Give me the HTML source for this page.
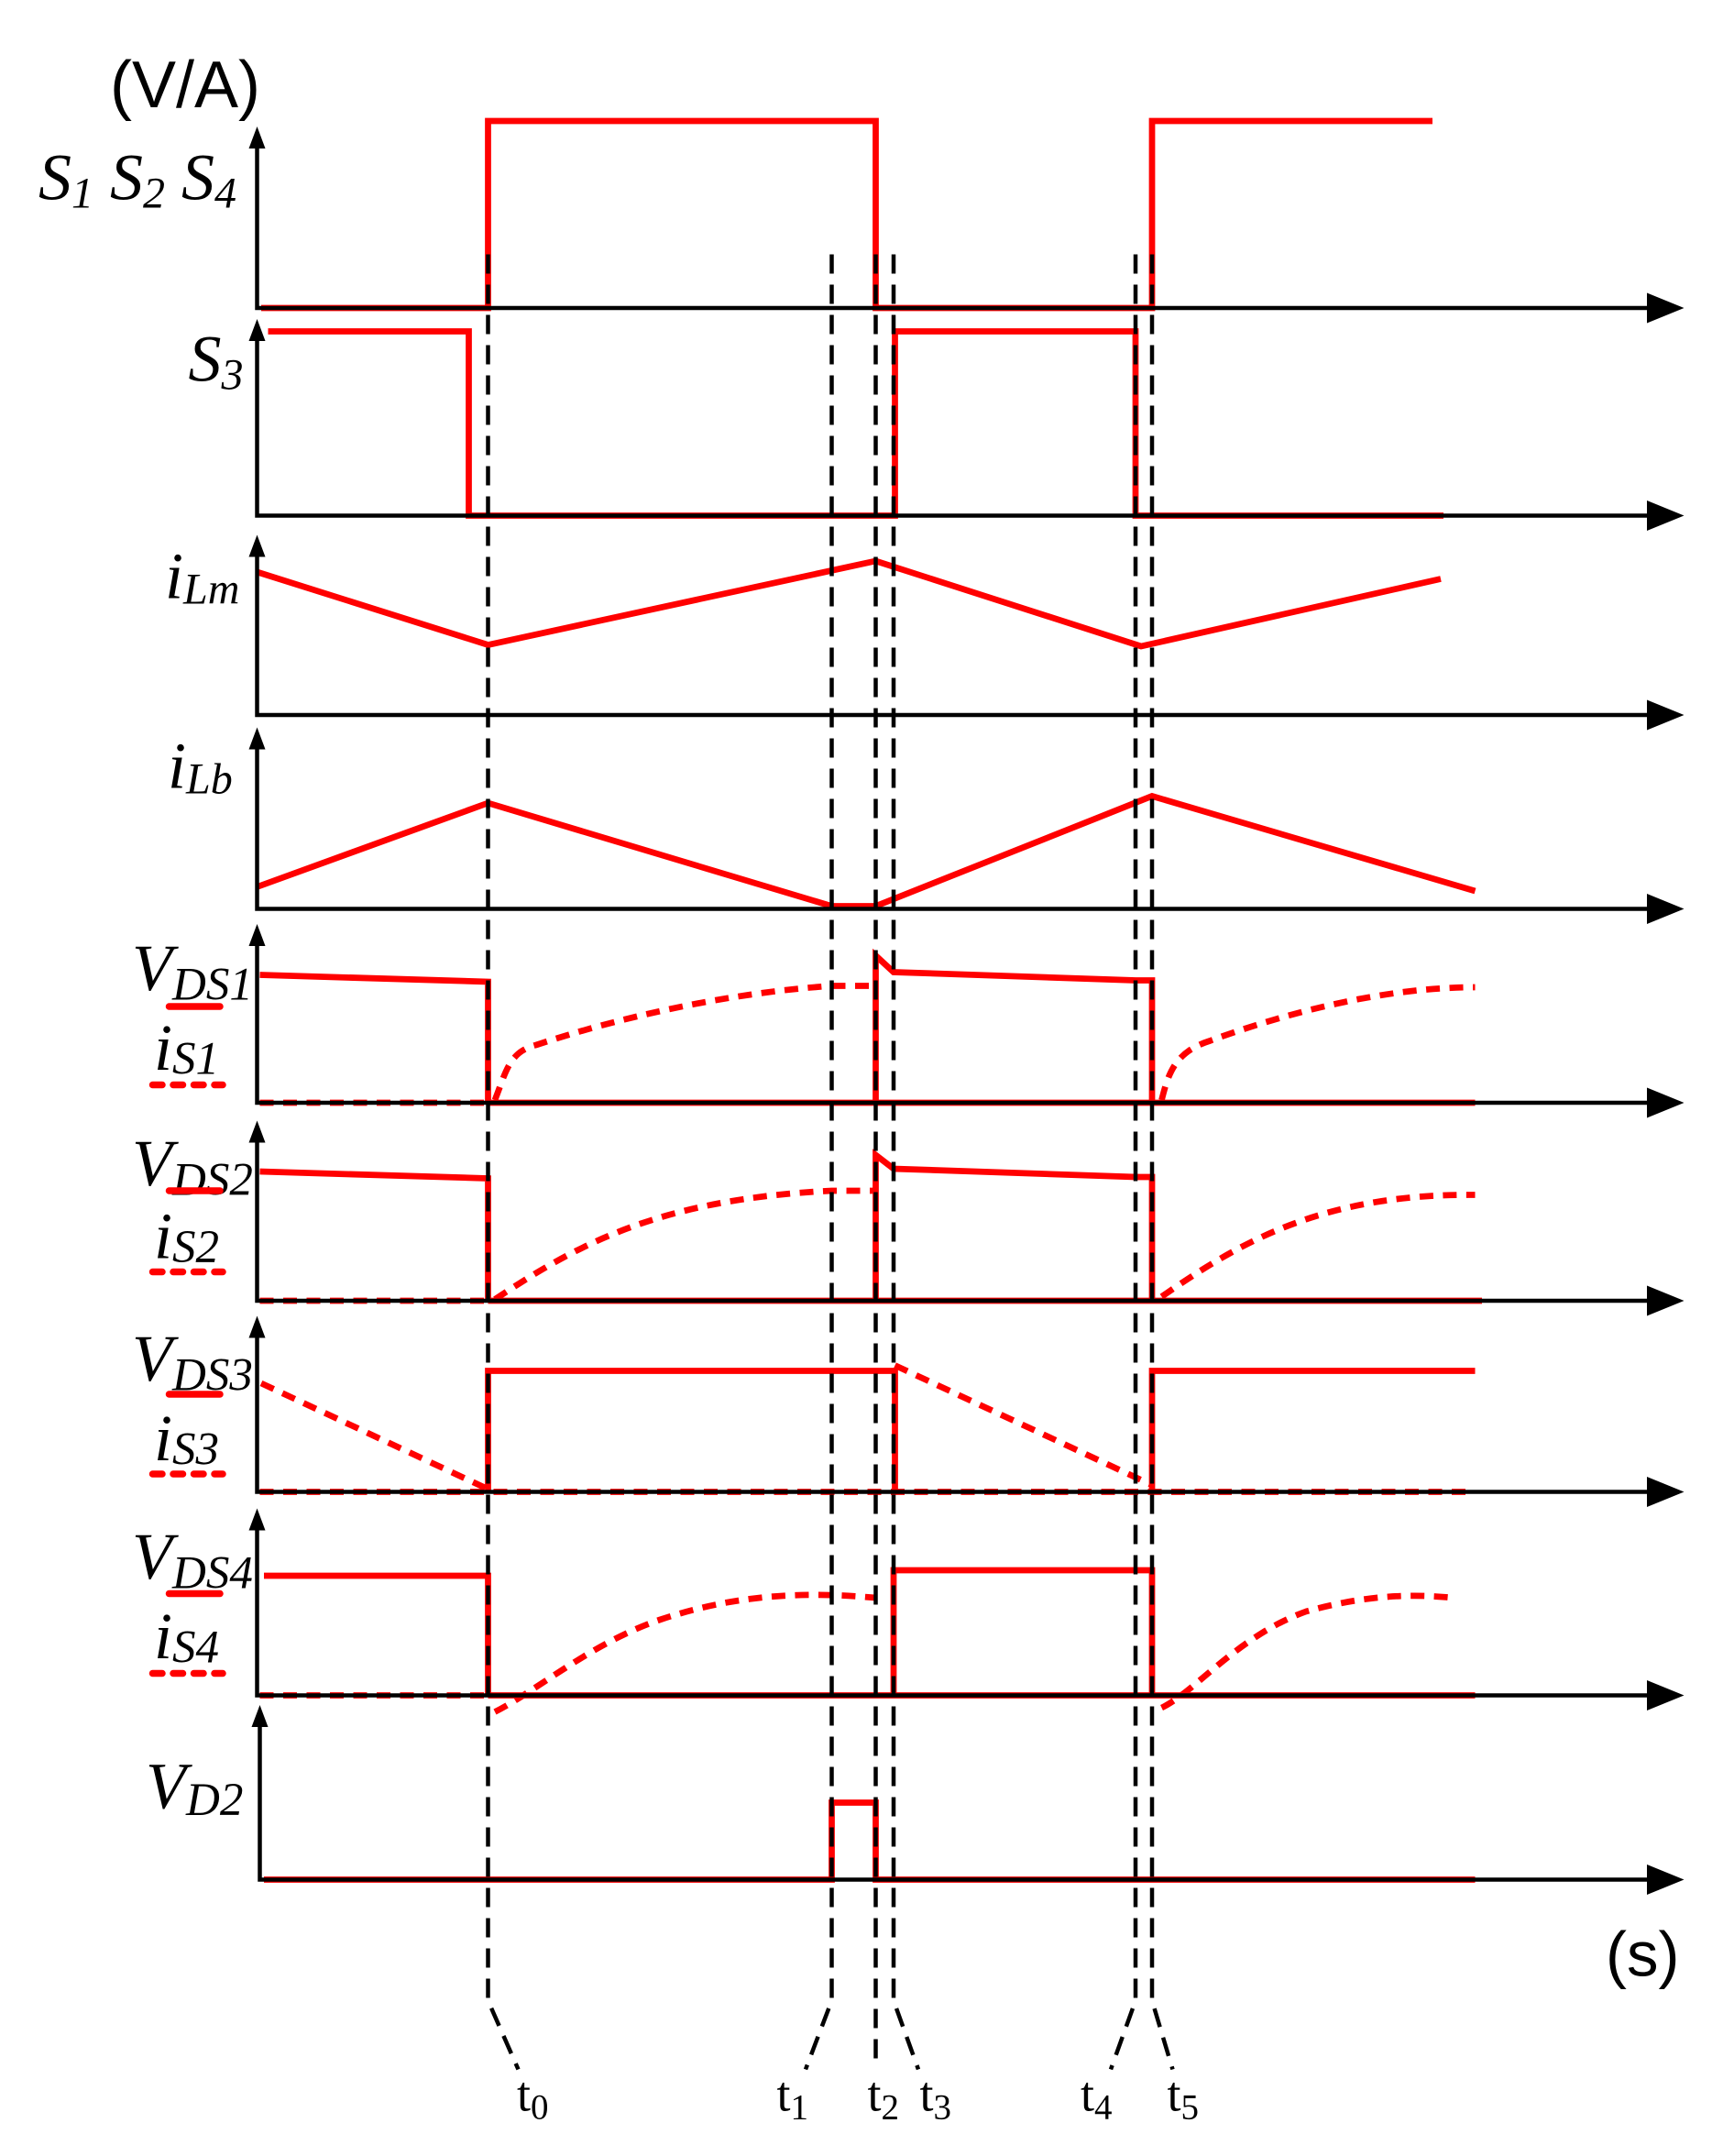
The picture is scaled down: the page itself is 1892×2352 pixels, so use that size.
<!DOCTYPE html>
<html><head><meta charset="utf-8"><style>html,body{margin:0;padding:0;background:#fff}svg{display:block}</style></head>
<body>
<svg width="1892" height="2352" viewBox="0 0 1261.33 1568" preserveAspectRatio="none" xmlns="http://www.w3.org/2000/svg">
<g font-family="Liberation Serif, serif" font-style="italic" fill="#000">
<text x="80" y="78" font-family="Liberation Sans, sans-serif" font-style="normal" font-size="48">(V/A)</text>
<text x="28" y="145" font-size="48">S<tspan font-size="32" dy="6">1</tspan><tspan dy="-6" font-size="48"> S</tspan><tspan font-size="32" dy="6">2</tspan><tspan dy="-6" font-size="48"> S</tspan><tspan font-size="32" dy="6">4</tspan></text>
<text x="137" y="277" font-size="48">S<tspan font-size="32" dy="6">3</tspan></text>
<text x="120" y="435" font-size="48">i<tspan font-size="32" dy="4">Lm</tspan></text>
<text x="122" y="573" font-size="48">i<tspan font-size="32" dy="4">Lb</tspan></text>
<text x="96" y="720" font-size="48">V<tspan font-size="34" dy="7">DS1</tspan></text>
<text x="112" y="778" font-size="48">i<tspan font-size="34" dy="3">S1</tspan></text>
<text x="96" y="862" font-size="48">V<tspan font-size="34" dy="7">DS2</tspan></text>
<text x="112" y="915" font-size="48">i<tspan font-size="34" dy="3">S2</tspan></text>
<text x="96" y="1004" font-size="48">V<tspan font-size="34" dy="7">DS3</tspan></text>
<text x="112" y="1062" font-size="48">i<tspan font-size="34" dy="3">S3</tspan></text>
<text x="96" y="1148" font-size="48">V<tspan font-size="34" dy="7">DS4</tspan></text>
<text x="112" y="1206" font-size="48">i<tspan font-size="34" dy="3">S4</tspan></text>
<text x="106" y="1315" font-size="48">V<tspan font-size="34" dy="5">D2</tspan></text>
<text x="1168" y="1437" font-family="Liberation Sans, sans-serif" font-style="normal" font-size="46">(s)</text>
<g font-style="normal" font-size="36">
<text x="376" y="1535">t<tspan font-size="26" dy="6">0</tspan></text>
<text x="565" y="1535">t<tspan font-size="26" dy="6">1</tspan></text>
<text x="631" y="1535">t<tspan font-size="26" dy="6">2</tspan></text>
<text x="669" y="1535">t<tspan font-size="26" dy="6">3</tspan></text>
<text x="786" y="1535">t<tspan font-size="26" dy="6">4</tspan></text>
<text x="849" y="1535">t<tspan font-size="26" dy="6">5</tspan></text>
</g>
</g>
<g stroke="#f00" stroke-width="5" stroke-linecap="round">
<line x1="123" y1="732" x2="160" y2="732"/>
<line x1="123" y1="866" x2="160" y2="866"/>
<line x1="123" y1="1014" x2="160" y2="1014"/>
<line x1="123" y1="1159" x2="160" y2="1159"/>
<g stroke-dasharray="7,8"><line x1="111" y1="789" x2="162" y2="789"/>
<line x1="111" y1="925" x2="162" y2="925"/>
<line x1="111" y1="1072" x2="162" y2="1072"/>
<line x1="111" y1="1217" x2="162" y2="1217"/></g>
</g>
<g fill="none" stroke="#f00" stroke-width="4.5" stroke-linejoin="miter">
<polyline points="190,224 355,224 355,88 637,88 637,224 838,224 838,88 1042,88"/>
<polyline points="195,241 341,241 341,375 651,375 651,241 826,241 826,375 1050,375"/>
<polyline points="187,416 355,469 637,408 830,470 1048,421"/>
<polyline points="187,645 355,584 605,659 637,659 838,579 1073,648"/>
<polyline points="189,709 355,714 355,802"/>
<polyline points="637,802 637,695 650,707 826,713 838,713 838,802"/>
<line x1="355" y1="802" x2="1073" y2="802"/>
<polyline points="189,852 355,857 355,946"/>
<polyline points="637,946 637,840 650,850 826,856 838,856 838,946"/>
<line x1="355" y1="946" x2="1078" y2="946"/>
<polyline points="355,1085 355,997 651,997 651,1085"/>
<polyline points="838,1085 838,997 1073,997"/>
<polyline points="192,1146 355,1146 355,1233"/>
<polyline points="650,1233 650,1142 838,1142 838,1233"/>
<line x1="355" y1="1233" x2="1073" y2="1233"/>
<polyline points="192,1367 605,1367 605,1311 637,1311 637,1367 1073,1367"/>
</g>
<g fill="none" stroke="#f00" stroke-width="4.5" stroke-dasharray="10,7">
<line x1="189" y1="802" x2="355" y2="802"/>
<path d="M360,800 C368,780 370,765 390,760 C450,740 530,722 605,717"/>
<line x1="605" y1="717" x2="637" y2="717"/>
<path d="M845,800 C850,780 855,765 880,757 C940,735 1010,718 1073,718"/>
<line x1="189" y1="946" x2="355" y2="946"/>
<path d="M360,945 C420,905 480,872 605,866 L637,866"/>
<path d="M845,943 C900,905 960,868 1073,869"/>
<polyline points="190,1006 355,1083"/>
<line x1="189" y1="1085" x2="1070" y2="1085"/>
<polyline points="651,993 838,1080"/>
<line x1="189" y1="1233" x2="355" y2="1233"/>
<path d="M360,1245 C390,1230 430,1195 480,1178 C540,1158 590,1158 637,1162"/>
<path d="M845,1242 C870,1230 900,1190 950,1172 C1000,1158 1035,1160 1057,1162"/>
</g>
<g stroke="#000" stroke-width="3" fill="none">
<polyline points="187,105 187,224 1205,224"/>
<polyline points="187,245 187,375 1205,375"/>
<polyline points="187,402 187,520 1205,520"/>
<polyline points="187,542 187,661 1205,661"/>
<polyline points="187,685 187,802 1205,802"/>
<polyline points="187,828 187,946 1205,946"/>
<polyline points="187,970 187,1085 1205,1085"/>
<polyline points="187,1110 187,1233 1205,1233"/>
<polyline points="189,1253 189,1367 1205,1367"/>
</g>
<g fill="#000">
<polygon points="187,92 181,108 193,108"/>
<polygon points="187,232 181,248 193,248"/>
<polygon points="187,389 181,405 193,405"/>
<polygon points="187,529 181,545 193,545"/>
<polygon points="187,672 181,688 193,688"/>
<polygon points="187,815 181,831 193,831"/>
<polygon points="187,957 181,973 193,973"/>
<polygon points="187,1097 181,1113 193,1113"/>
<polygon points="189,1240 183,1256 195,1256"/>
<polygon points="1225,224 1198,213 1198,235"/>
<polygon points="1225,375 1198,364 1198,386"/>
<polygon points="1225,520 1198,509 1198,531"/>
<polygon points="1225,661 1198,650 1198,672"/>
<polygon points="1225,802 1198,791 1198,813"/>
<polygon points="1225,946 1198,935 1198,957"/>
<polygon points="1225,1085 1198,1074 1198,1096"/>
<polygon points="1225,1233 1198,1222 1198,1244"/>
<polygon points="1225,1367 1198,1356 1198,1378"/>
</g>
<g stroke="#000" stroke-width="3" fill="none" stroke-dasharray="14,8">
<polyline points="355,185 355,1455 377,1505"/>
<polyline points="605,185 605,1455 586,1505"/>
<polyline points="637,185 637,1505"/>
<polyline points="650,185 650,1455 668,1505"/>
<polyline points="826,185 826,1455 808,1505"/>
<polyline points="838,185 838,1455 853,1505"/>
</g>
</svg>
</body></html>
